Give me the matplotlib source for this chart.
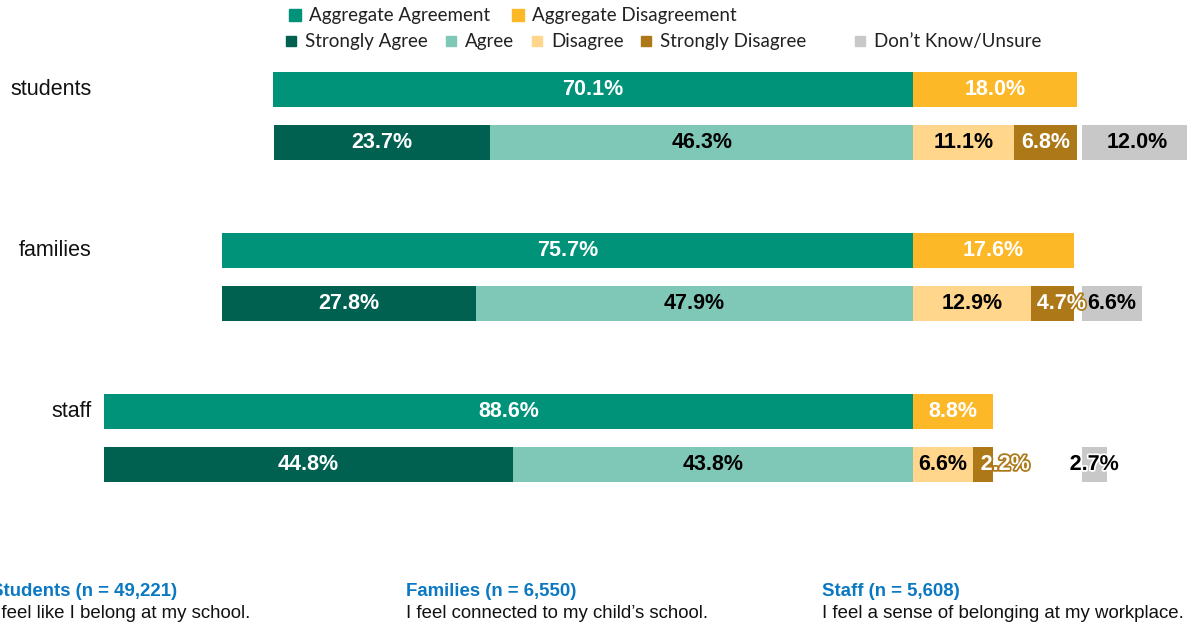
import numpy as np
import matplotlib.pyplot as plt
import matplotlib.patheffects as pe
from matplotlib.patches import Rectangle

# survey results, percent
groups = ['students', 'families', 'staff']
agg_agree = [70.1, 75.7, 88.6]
agg_disagree = [18.0, 17.6, 8.8]
strongly_agree = [23.7, 27.8, 44.8]
agree = [46.3, 47.9, 43.8]
disagree = [11.1, 12.9, 6.6]
strongly_disagree = [6.8, 4.7, 2.2]
dont_know = [12.0, 6.6, 2.7]

captions = ['Students (n = 49,221)', 'Families (n = 6,550)', 'Staff (n = 5,608)']
questions = ['I feel like I belong at my school.',
             'I feel connected to my child\u2019s school.',
             'I feel a sense of belonging at my workplace.']

C_AGG_AGREE = '#009379'
C_AGG_DIS = '#FDB827'
C_SA = '#006151'
C_A = '#7FC8B8'
C_D = '#FFD68C'
C_SD = '#AD7817'
C_DK = '#C8C8C8'

W, H = 1187, 628
fig = plt.figure(figsize=(W / 100, H / 100), dpi=100)
ax = fig.add_axes([0, 0, 1, 1])
ax.set_xlim(-100, 30.0)
ax.set_ylim(H, 0)   # y measured downward in pixels
ax.axis('off')

BAR_H = 35
DK_START = 18.5

def label(x, y, s, color, outline=None, dx=0):
    kw = {}
    if outline:
        kw['path_effects'] = [pe.withStroke(linewidth=2.5, foreground=outline)]
    ax.text(x + dx, y, s, ha='center', va='center', color=color,
            fontsize=15.5, fontweight='bold', family='Liberation Sans', **kw)

# some small segments push their label off to the right
shift = {(1, 'sd'): 1.0, (2, 'sd'): 2.4}

for g, name in enumerate(groups):
    ya = 89.5 + 161 * g
    yd = ya + 53
    ax.text(-90, ya, name, ha='right', va='center', fontsize=15.5,
            family='Liberation Sans', color='#111111')

    # aggregate row
    ax.barh(ya, -agg_agree[g], height=BAR_H, color=C_AGG_AGREE)
    ax.barh(ya, agg_disagree[g], height=BAR_H, color=C_AGG_DIS)
    label(-agg_agree[g] / 2, ya, f'{agg_agree[g]:.1f}%', 'white')
    label(agg_disagree[g] / 2, ya, f'{agg_disagree[g]:.1f}%', 'white')

    # detail row
    left_sa = -(strongly_agree[g] + agree[g])
    ax.barh(yd, strongly_agree[g], left=left_sa, height=BAR_H, color=C_SA)
    ax.barh(yd, agree[g], left=-agree[g], height=BAR_H, color=C_A)
    ax.barh(yd, disagree[g], left=0, height=BAR_H, color=C_D)
    ax.barh(yd, strongly_disagree[g], left=disagree[g], height=BAR_H, color=C_SD)
    ax.barh(yd, dont_know[g], left=DK_START, height=BAR_H, color=C_DK)

    label(left_sa + strongly_agree[g] / 2, yd, f'{strongly_agree[g]:.1f}%', 'white')
    label(-agree[g] / 2, yd, f'{agree[g]:.1f}%', 'black')
    label(disagree[g] / 2, yd, f'{disagree[g]:.1f}%', 'black')
    sd_shift = shift.get((g, 'sd'), 0)
    label(disagree[g] + strongly_disagree[g] / 2, yd, f'{strongly_disagree[g]:.1f}%',
          'white', outline=C_SD if sd_shift else None, dx=sd_shift)
    label(DK_START + dont_know[g] / 2, yd, f'{dont_know[g]:.1f}%', 'black',
          outline='white' if dont_know[g] < 4 else None)

# legend, two rows
def px(x, y):
    return x / W, 1 - y / H

legend_rows = [
    (15, 12, [(295, C_AGG_AGREE, 'Aggregate Agreement'),
              (518, C_AGG_DIS, 'Aggregate Disagreement')]),
    (41, 10, [(291, C_SA, 'Strongly Agree'), (451, C_A, 'Agree'),
              (537, C_D, 'Disagree'), (646, C_SD, 'Strongly Disagree'),
              (860, C_DK, 'Don\u2019t Know/Unsure')]),
]
for ly, sz, items in legend_rows:
    for lx, col, txt in items:
        fx, fy = px(lx - sz / 2, ly + sz / 2)
        fig.patches.append(Rectangle((fx, fy), sz / W, sz / H, color=col,
                                     transform=fig.transFigure))
        tx, ty = px(lx + 14, ly)
        fig.text(tx, ty, txt, ha='left', va='center', fontsize=13.5,
                 family='Lato', color='#222222')

# question captions along the bottom
for i, x0 in enumerate([-9, 406, 822]):
    tx, ty = px(x0, 591)
    fig.text(tx, ty, captions[i], ha='left', va='center', fontsize=13.4,
             fontweight='bold', family='Liberation Sans', color='#0A78C2')
    tx, ty = px(x0, 614)
    fig.text(tx, ty, questions[i], ha='left', va='center', fontsize=13.4,
             family='Liberation Sans', color='#111111')

fig.savefig('out.png', dpi=100)
